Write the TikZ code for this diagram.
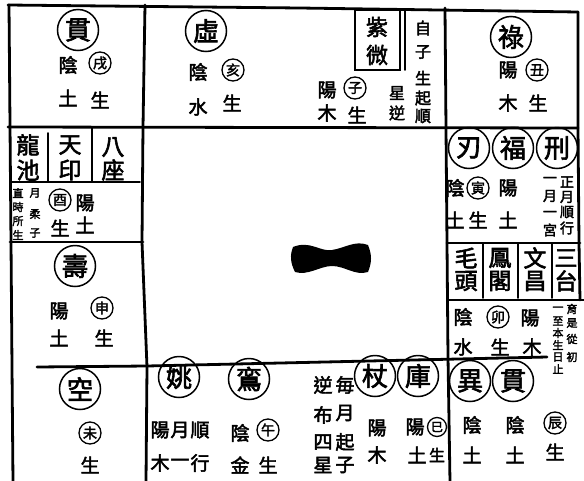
\documentclass[tikz,border=0pt]{standalone}
\usepackage{fontspec}
\newfontfamily\cjk[FakeBold=2.5]{Noto Sans CJK TC}
\begin{document}
\begin{tikzpicture}[x=1pt,y=-1pt,
  bd/.style={line width=2.8pt,line cap=round,line join=round},
  sb/.style={line width=1.9pt,line cap=round},
  bigc/.style={circle,draw,line width=1.5pt,inner sep=0pt,minimum size=41pt,font=\cjk\fontsize{26}{26}\selectfont},
  smc/.style={circle,draw,line width=1.3pt,inner sep=0pt,minimum size=22pt,font=\cjk\fontsize{14}{14}\selectfont},
  ch/.style={inner sep=0pt,font=\cjk\fontsize{19}{19}\selectfont},
  big/.style={inner sep=0pt,font=\cjk\fontsize{23}{23}\selectfont},
  mid/.style={inner sep=0pt,font=\cjk\fontsize{16}{16}\selectfont},
  nar/.style={inner sep=0pt,font=\cjk\fontsize{14}{14}\selectfont},
  sm/.style={inner sep=0pt,font=\cjk\fontsize{11}{11}\selectfont}]
\useasboundingbox (0,0) rectangle (584,480);
% ---- grid lines ----
\draw[bd] (8,5) -- (300,8) -- (578,12);
\draw[bd] (9,5) -- (10,125) -- (11,242) -- (12,367) -- (13,482);
\draw[bd] (145,5) -- (143,127);
\draw[bd] (445,8) -- (446,128);
\draw[bd] (578,12) -- (578,128) -- (579,243) -- (580,300);
\draw[bd] (8,127) -- (578,128);
\draw[bd] (143,127) -- (142,242) -- (147,367) -- (146,482);
\draw[bd] (446,128) -- (447,243) -- (448,357) -- (450,482);
\draw[bd] (10,242) -- (143,242);
\draw[bd] (37,367) -- (147,366) -- (547,357);
\draw[bd] (447,243) -- (580,243);
\draw[bd] (448,300) -- (584,300);
\draw[sb] (483,243) -- (483,298) (518,243) -- (518,298) (552,243) -- (552,298);
\draw[sb] (10,182) -- (140,182);
\draw[sb] (48,133) -- (48,182) (92,127) -- (92,182);
\draw[sb] (355,10) rectangle (400,70);
\draw[sb] (405,9) -- (405,70);
% ---- centre blob ----
\fill (293,247) .. controls (310,240) and (320,252) .. (332,250)
  .. controls (345,248) and (355,240) .. (368,245)
  .. controls (372,255) and (372,262) .. (368,272)
  .. controls (355,276) and (345,266) .. (332,266)
  .. controls (320,266) and (308,276) .. (295,272)
  .. controls (290,262) and (290,255) .. (293,247) -- cycle;
% ---- 戌 ----
\node[bigc] (xu) at (78,30) {貫};
\node[ch] at (68,65) {陰}; \node[smc] (xub) at (100,63) {戌};
\node[ch] at (68,98) {土}; \node[ch] at (100,100) {生};
% ---- 亥 ----
\node[bigc] (hai) at (206,31) {虛};
\node[ch] at (198,72) {陰}; \node[smc] (haib) at (233,70) {亥};
\node[ch] at (198,107) {水}; \node[ch] at (232,103) {生};
% ---- 子 ----
\node[inner sep=0pt,font=\cjk\fontsize{22}{22}\selectfont] at (377,27) {紫};
\node[inner sep=0pt,font=\cjk\fontsize{22}{22}\selectfont] at (377,55) {微};
\foreach \c/\y in {自/28,子/52,生/78,起/98,順/116} \node[mid] at (423,\y) {\c};
\node[mid] at (397,93) {星}; \node[mid] at (397,113) {逆};
\node[ch] at (327,90) {陽}; \node[smc] (zib) at (355,88) {子};
\node[ch] at (327,113) {木}; \node[ch] at (357,115) {生};
% ---- 丑 ----
\node[bigc] (chou) at (511,37) {祿};
\node[ch] at (508,70) {陽}; \node[smc] (choub) at (537,70) {丑};
\node[ch] at (508,103) {木}; \node[ch] at (538,103) {生};
% ---- 酉 ----
\node[big] at (28,145) {龍}; \node[big] at (28,170) {池};
\node[big] at (70,145) {天}; \node[big] at (70,170) {印};
\node[big] at (113,147) {八}; \node[big] at (113,170) {座};
\foreach \c/\y in {直/193,時/207,所/221,生/235} \node[sm] at (18,\y) {\c};
\foreach \c/\y in {月/193,柔/214,子/233} \node[sm] at (35,\y) {\c};
\node[smc] (youb) at (60,200) {酉}; \node[ch] at (85,203) {陽};
\node[ch] at (60,228) {生}; \node[ch] at (85,225) {土};
% ---- 申 ----
\node[bigc] (shen) at (75,266) {壽};
\node[ch] at (59,311) {陽}; \node[smc] (shenb) at (102,308) {申};
\node[ch] at (59,338) {土}; \node[ch] at (104,338) {生};
% ---- 未 ----
\node[bigc] (wei) at (80,389) {空};
\node[smc] (weib) at (90,433) {未};
\node[ch] at (90,465) {生};
% ---- 午 ----
\node[bigc] (wu1) at (179,377) {姚};
\node[bigc] (wu2) at (249,379) {鵉};
\foreach \c/\x in {陽/160,月/180,順/200} \node[ch] at (\x,430) {\c};
\foreach \c/\x in {木/160,一/180,行/200} \node[ch] at (\x,463) {\c};
\node[ch] at (240,433) {陰}; \node[smc] (wub) at (268,430) {午};
\node[ch] at (240,465) {金}; \node[ch] at (268,465) {生};
% ---- 巳 ----
\foreach \c/\y in {逆/385,布/415,四/442,星/465} \node[ch] at (323,\y) {\c};
\foreach \c/\y in {毎/385,月/413,起/442,子/465} \node[ch] at (345,\y) {\c};
\node[bigc] (si1) at (375,376) {杖};
\node[bigc] (si2) at (418,376) {庫};
\node[ch] at (377,428) {陽}; \node[ch] at (377,455) {木};
\node[ch] at (415,427) {陽}; \node[smc,minimum size=19pt,font=\cjk\fontsize{12}{12}\selectfont] (sib) at (437,427) {巳};
\node[ch] at (417,455) {土}; \node[mid] at (437,455) {生};
% ---- 辰 ----
\node[bigc] (chen1) at (470,381) {異};
\node[bigc] (chen2) at (513,381) {貫};
\node[ch] at (472,425) {陰}; \node[ch] at (515,425) {陰};
\node[smc] (chenb) at (555,423) {辰};
\node[ch] at (472,455) {土}; \node[ch] at (515,455) {土}; \node[ch] at (555,452) {生};
% ---- 寅 ----
\node[bigc] (yin1) at (469,148) {刃};
\node[bigc] (yin2) at (513,148) {福};
\node[bigc] (yin3) at (557,148) {刑};
\node[ch] at (455,188) {陰}; \node[smc] (yinb) at (478,188) {寅}; \node[ch] at (508,188) {陽};
\node[ch] at (455,220) {土}; \node[ch] at (478,220) {生}; \node[ch] at (508,220) {土};
\foreach \c/\y in {一/180,月/196,一/214,宮/230} \node[nar] at (550,\y) {\c};
\foreach \c/\y in {正/182,月/197,順/212,行/228} \node[nar] at (567,\y) {\c};
% ---- 四星 boxes ----
\node[big] at (466,258) {毛}; \node[big] at (466,281) {頭};
\node[big] at (500,258) {鳳}; \node[big] at (500,281) {閣};
\node[big] at (535,258) {文}; \node[big] at (535,281) {昌};
\node[big] at (566,258) {三}; \node[big] at (566,281) {台};
% ---- 卯 ----
\node[ch] at (463,317) {陰}; \node[smc] (maob) at (498,317) {卯}; \node[ch] at (530,318) {陽};
\node[ch] at (463,347) {水}; \node[ch] at (500,347) {生}; \node[ch] at (532,347) {木};
\foreach \c/\y in {一/309,至/321,本/333,生/345,日/357,止/369} \node[sm] at (558,\y) {\c};
\foreach \c/\y in {育/309,是/323,從/339,初/357} \node[sm] at (572,\y) {\c};
\end{tikzpicture}
\end{document}
